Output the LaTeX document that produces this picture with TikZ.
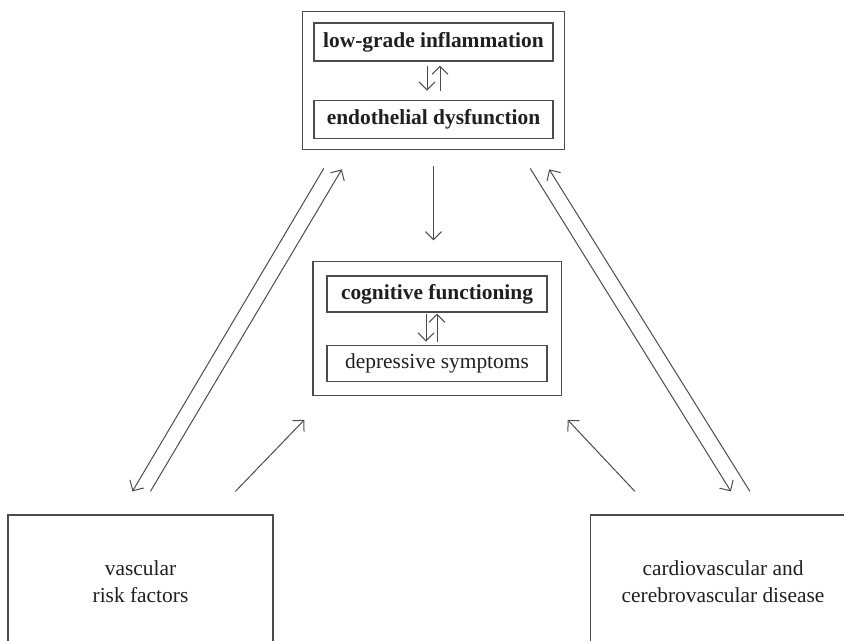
\documentclass[tikz,border=0pt]{standalone}
\usepackage{fontspec}
\setmainfont{Liberation Serif}
\usetikzlibrary{positioning, fit, calc, arrows.meta}
\definecolor{boxline}{gray}{0.3}
\definecolor{ink}{gray}{0.12}

\begin{document}
\begin{tikzpicture}[x=0.5pt, y=-0.5pt, font=\fontsize{10.7}{13.5}\selectfont, text=ink,
	b/.style={draw=boxline, line width=0.6pt, inner sep=0pt, align=center},
	hi/.style={b, font=\fontsize{10.7}{13.5}\selectfont\bfseries},
	wrap/.style={draw=boxline, line width=0.6pt, inner sep=#1},
	arr/.style={->, draw=boxline, line width=0.5pt},
	>={Straight Barb[length=4pt, width=8pt]}]
	\useasboundingbox (0,0) rectangle (844,641);
	\clip (0,0) rectangle (844,641);

	\node [hi, minimum width=119.5pt, minimum height=19pt] (inflam) at (433.5,42) {low-grade inflammation};
	\node [hi, minimum width=119.5pt, minimum height=19pt, below=19pt of inflam] (endo) {endothelial dysfunction};
	\node [wrap=5.5pt, fit=(inflam)(endo)] (topbox) {};

	\node [hi, minimum width=110pt, minimum height=18pt] (cogn) at (437,294) {cognitive functioning};
	\node [b, minimum width=110pt, minimum height=18pt, below=16pt of cogn] (depr) {depressive symptoms};
	\node [wrap=6.75pt, fit=(cogn)(depr)] (midbox) {};

	\node [b, minimum width=132.5pt, minimum height=67pt] (vasc) at (140.5,582) {vascular\\risk factors};
	\node [b, minimum width=132.5pt, minimum height=67pt] (cardio) at (723,582) {cardiovascular and\\cerebrovascular disease};

	\draw [arr] ([xshift=-3.25pt, yshift=-2pt]inflam.south) -- ([xshift=-3.25pt, yshift=4.5pt]endo.north);
	\draw [arr] ([xshift=3.25pt, yshift=4.5pt]endo.north) -- ([xshift=3.25pt, yshift=-2pt]inflam.south);
	\draw [arr] ([xshift=-5.5pt, yshift=-0.5pt]cogn.south) -- ([xshift=-5.5pt, yshift=1.5pt]depr.north);
	\draw [arr] ([yshift=1.5pt]depr.north) -- ([yshift=-0.5pt]cogn.south);

	\draw [arr, shorten <=8pt, shorten >=10.5pt] (topbox.south) -- (topbox.south |- midbox.north);

	\draw [arr] ($(topbox.south west)+(22,18)$) -- ($(vasc.north west)+(125,-23)$);
	\draw [arr] ($(vasc.north west)+(143,-23)$) -- ($(topbox.south west)+(40,19)$);
	\draw [arr] ($(topbox.south east)+(-35,18)$) -- ($(cardio.north west)+(141,-23)$);
	\draw [arr] ($(cardio.north west)+(160,-23)$) -- ($(topbox.south east)+(-16,19)$);
	\draw [arr] ($(vasc.north west)+(228,-23)$) -- ($(midbox.south west)+(-8,24)$);
	\draw [arr] ($(cardio.north west)+(45,-23)$) -- ($(midbox.south east)+(6,24)$);
\end{tikzpicture}
\end{document}
